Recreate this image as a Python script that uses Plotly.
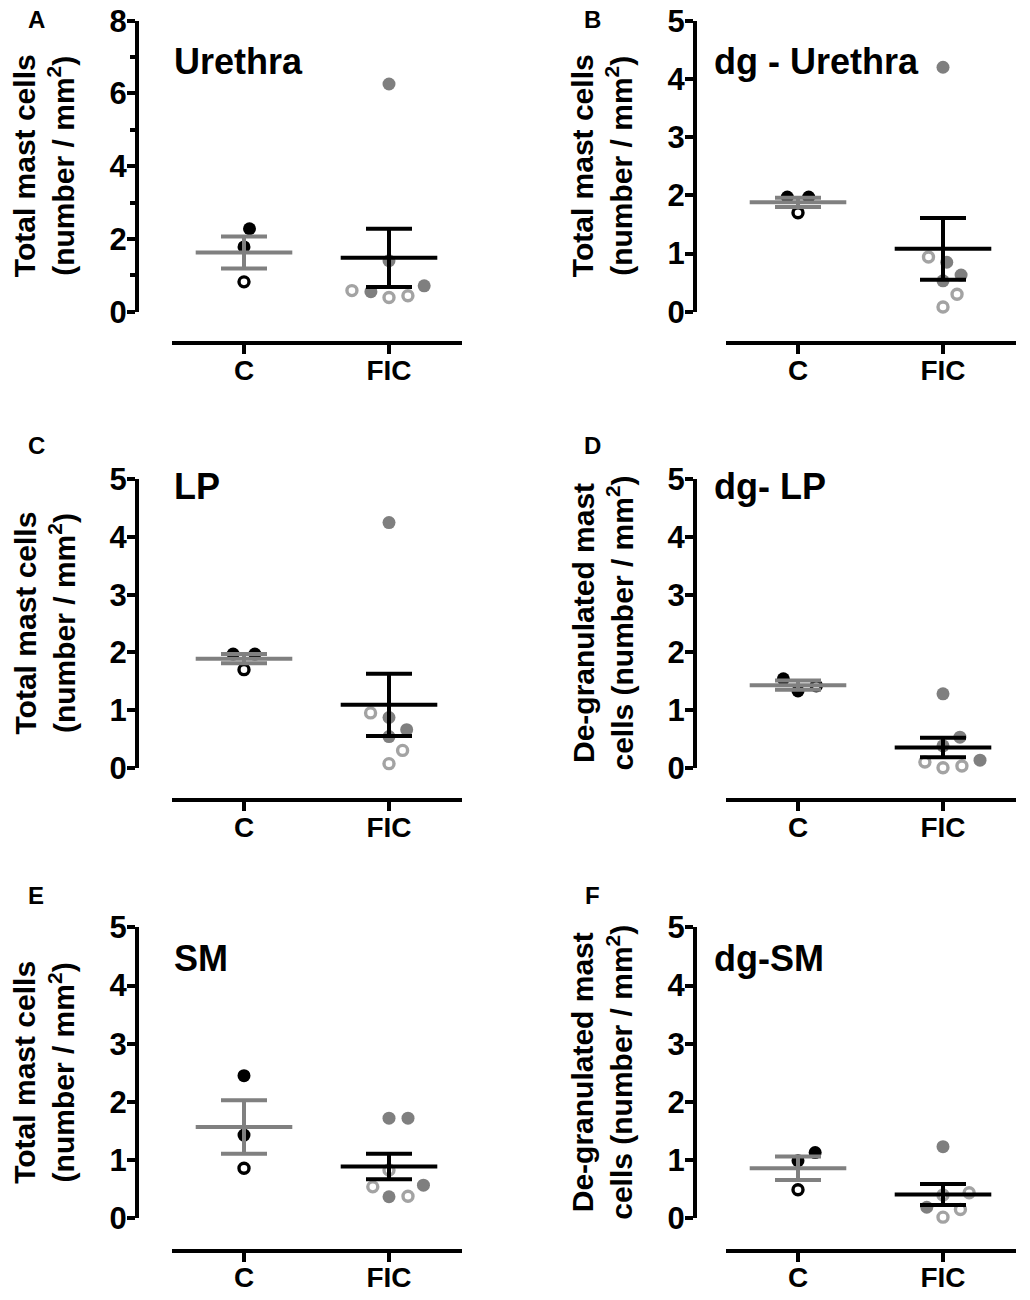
#!/usr/bin/env python3
"""
Mast cell counts (total and de-granulated) in urethra, LP and SM: control vs FIC.
Scatter of individual animals with mean +/- SEM, six panels.
"""

import math
import plotly.graph_objects as go

# the page body keeps its default 8px margin, so the figure is drawn 8px in
OFF = 8
W, H = 1030 - 2 * OFF, 1300 - 2 * OFF

groups = ["C", "FIC"]

panel_letters = ["A", "B", "C", "D", "E", "F"]
panel_titles = ["Urethra", "dg - Urethra", "LP", "dg- LP", "SM", "dg-SM"]
y_titles = [
    "Total mast cells<br>(number / mm<sup>2</sup>)",
    "Total mast cells<br>(number / mm<sup>2</sup>)",
    "Total mast cells<br>(number / mm<sup>2</sup>)",
    "De-granulated mast<br>cells (number / mm<sup>2</sup>)",
    "Total mast cells<br>(number / mm<sup>2</sup>)",
    "De-granulated mast<br>cells (number / mm<sup>2</sup>)",
]
y_max = [8, 5, 5, 5, 5, 5]

# values (filled = dark symbols, open = ring symbols)
a_c_filled = [2.28, 1.78]
a_c_open = [0.82]
a_fic_filled = [6.26, 1.40, 0.71, 0.55]
a_fic_open = [0.58, 0.39, 0.44]
a_mean = [1.63, 1.48]
a_sem = [0.44, 0.80]

b_c_filled = [1.97, 1.97]
b_c_open = [1.70]
b_fic_filled = [4.20, 0.85, 0.63, 0.53]
b_fic_open = [0.94, 0.30, 0.08]
b_mean = [1.88, 1.08]
b_sem = [0.08, 0.53]

c_c_filled = [1.97, 1.97]
c_c_open = [1.70]
c_fic_filled = [4.25, 0.87, 0.66, 0.54]
c_fic_open = [0.95, 0.30, 0.07]
c_mean = [1.89, 1.09]
c_sem = [0.08, 0.54]

d_c_filled = [1.54, 1.33]
d_c_open = [1.42]
d_fic_filled = [1.28, 0.53, 0.38, 0.13]
d_fic_open = [0.10, 0.00, 0.03]
d_mean = [1.43, 0.35]
d_sem = [0.08, 0.17]

e_c_filled = [2.45, 1.43]
e_c_open = [0.86]
e_fic_filled = [1.72, 1.72, 0.57, 0.37]
e_fic_open = [0.83, 0.54, 0.38]
e_mean = [1.57, 0.89]
e_sem = [0.46, 0.22]

f_c_filled = [1.13, 0.99]
f_c_open = [0.49]
f_fic_filled = [1.23, 0.19]
f_fic_open = [0.44, 0.40, 0.15, 0.02]
f_mean = [0.86, 0.41]
f_sem = [0.20, 0.18]

panels = [
    ([a_c_filled, a_fic_filled], [a_c_open, a_fic_open], a_mean, a_sem),
    ([b_c_filled, b_fic_filled], [b_c_open, b_fic_open], b_mean, b_sem),
    ([c_c_filled, c_fic_filled], [c_c_open, c_fic_open], c_mean, c_sem),
    ([d_c_filled, d_fic_filled], [d_c_open, d_fic_open], d_mean, d_sem),
    ([e_c_filled, e_fic_filled], [e_c_open, e_fic_open], e_mean, e_sem),
    ([f_c_filled, f_fic_filled], [f_c_open, f_fic_open], f_mean, f_sem),
]

# colours per group
pt_filled = ["#000000", "#7f7f7f"]
pt_open = ["#000000", "#a3a3a3"]
bar_col = ["#808080", "#000000"]

# page geometry in window px
col_yaxis = [137, 695]
col_x0 = [171.5, 725.5]
plot_w = 290
row_top = [20.7, 479.3, 927.3]
row_bot = [311.7, 767.7, 1218.3]
row_xaxis = [343, 800, 1250.5]
letter_x = [36, 592]
letter_y = [19, 445, 895]
title_x = [172, 712]
title_y = [62, 486, 958]
ytitle_x = [44, 602]

FONT = "Liberation Sans, Arial, sans-serif"
SWARM_D = 19  # px spacing between neighbouring dots


def px_x(px):
    return (px - OFF) / W


def px_y(py):
    return 1 - (py - OFF) / H


def swarm(values, px_per_y):
    """Greedy beeswarm; returns x offsets in px."""
    order = sorted(range(len(values)), key=lambda i: values[i])
    placed = []
    offs = [0.0] * len(values)
    for i in order:
        y = values[i] * px_per_y
        cands = [0.0]
        for (px, py) in placed:
            dy = abs(py - y)
            if dy < SWARM_D:
                dx = math.sqrt(SWARM_D ** 2 - dy ** 2)
                cands += [px - dx, px + dx]
        cands.sort(key=lambda v: (abs(v), -v))
        for cx in cands:
            ok = all((cx - px) ** 2 + (y - py) ** 2 >= SWARM_D ** 2 - 0.01 for px, py in placed)
            if ok:
                break
        placed.append((cx, y))
        offs[i] = cx
    return offs


fig = go.Figure()
layout = {}
annotations = []

for p, (filled, opened, means, sems) in enumerate(panels):
    r, c = divmod(p, 2)
    sfx = "" if p == 0 else str(p + 1)
    xref, yref = "x" + sfx, "y" + sfx
    px_per_x = plot_w / 2.0
    px_per_y = (row_bot[r] - row_top[r]) / y_max[p]

    for k in range(2):
        vals = filled[k] + opened[k]
        offs = swarm(vals, px_per_y)
        nf = len(filled[k])
        xs = [k + o / px_per_x for o in offs]
        fig.add_trace(go.Scatter(
            x=xs[:nf], y=filled[k], xaxis=xref, yaxis=yref, mode="markers",
            marker=dict(symbol="circle", size=13, color=pt_filled[k], line=dict(width=0)),
            cliponaxis=False, showlegend=False,
        ))
        fig.add_trace(go.Scatter(
            x=xs[nf:], y=opened[k], xaxis=xref, yaxis=yref, mode="markers",
            marker=dict(symbol="circle-open", size=10, color=pt_open[k],
                        line=dict(width=3.4, color=pt_open[k])),
            cliponaxis=False, showlegend=False,
        ))

    # mean line + SEM whiskers on top of the dots
    for k in range(2):
        fig.add_trace(go.Scatter(
            x=[k], y=[means[k]], xaxis=xref, yaxis=yref, mode="markers",
            marker=dict(symbol="line-ew", size=69, color=bar_col[k],
                        line=dict(width=4, color=bar_col[k])),
            error_y=dict(type="data", array=[sems[k]], width=23, thickness=4, color=bar_col[k]),
            cliponaxis=False, showlegend=False,
        ))

    layout["xaxis" + sfx] = dict(
        domain=[px_x(col_x0[c]), px_x(col_x0[c] + plot_w)],
        anchor="free", position=px_y(row_xaxis[r]),
        range=[-0.5, 1.5], tickvals=[0, 1], ticktext=groups,
        showline=True, linewidth=4, linecolor="black",
        ticks="outside", ticklen=9, tickwidth=4, tickcolor="black",
        ticklabelstandoff=-8, ticklabeloverflow="allow",
        tickfont=dict(family=FONT, size=28, color="black", weight="bold"),
        showgrid=False, zeroline=False, automargin=False,
    )
    yax = dict(
        domain=[px_y(row_bot[r]), px_y(row_top[r])],
        anchor="free", position=px_x(col_yaxis[c]),
        range=[0, y_max[p]], dtick=2 if y_max[p] > 5 else 1,
        showline=True, linewidth=4, linecolor="black",
        ticks="outside", ticklen=8, tickwidth=4, tickcolor="black",
        ticklabelstandoff=-6, ticklabeloverflow="allow",
        tickfont=dict(family=FONT, size=31, color="black", weight="bold"),
        showgrid=False, zeroline=False, automargin=False,
    )
    if y_max[p] > 5:
        yax["minor"] = dict(dtick=1, ticks="outside", ticklen=5, tickwidth=4, tickcolor="black")
    layout["yaxis" + sfx] = yax

    annotations.append(dict(
        text=panel_letters[p], x=px_x(letter_x[c]), y=px_y(letter_y[r]),
        xref="paper", yref="paper", xanchor="center", yanchor="middle", showarrow=False,
        font=dict(family=FONT, size=24, color="black", weight="bold"),
    ))
    annotations.append(dict(
        text=panel_titles[p], x=px_x(title_x[c]), y=px_y(title_y[r]),
        xref="paper", yref="paper", xanchor="left", yanchor="middle", showarrow=False,
        font=dict(family=FONT, size=36, color="black", weight="bold"),
    ))
    annotations.append(dict(
        text=y_titles[p], x=px_x(ytitle_x[c]), y=px_y((row_top[r] + row_bot[r]) / 2),
        xref="paper", yref="paper", xanchor="center", yanchor="middle", showarrow=False,
        textangle=-90,
        font=dict(family=FONT, size=30, color="black", weight="bold"),
    ))

fig.update_layout(
    width=W, height=H,
    margin=dict(l=0, r=0, t=0, b=0),
    paper_bgcolor="white", plot_bgcolor="white",
    showlegend=False,
    annotations=annotations,
    **layout,
)

fig.write_html("out.html")
